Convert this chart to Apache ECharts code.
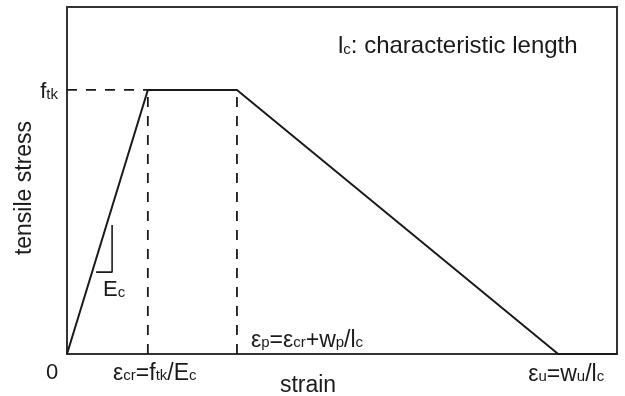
<!DOCTYPE html>
<html>
<head>
<meta charset="utf-8">
<script src="https://cdn.jsdelivr.net/npm/echarts@6/dist/echarts.min.js"></script>
<style>
  html, body { margin: 0; padding: 0; background: #fff; }
  #chart { width: 625px; height: 396px; }
</style>
</head>
<body>
<div id="chart"></div>
<script>
// Tensile softening law (trilinear), strain on x, tensile stress on y (relative units)
const strainMax = 100;
const stressMax = 100;
const epsCr = 14.7;     // cracking strain  = ftk / Ec
const epsP = 30.9;      // end of plateau   = epsCr + wp / lc
const epsU = 89.3;      // ultimate strain  = wu / lc
const ftk = 76.1;       // tensile strength

const curveX = [0, epsCr, epsP, epsU, strainMax];
const curveY = [0, ftk, ftk, 0, 0];

// small slope marker next to the rising branch
const slopeX = [5.3, 8.2, 8.2];
const slopeY = [23.6, 23.6, 37.2];

const FONT = '"Liberation Sans", Arial, Helvetica, sans-serif';
const INK = '#1a1a1a';

const chart = echarts.init(document.getElementById('chart'));

const pairs = (xs, ys) => xs.map((x, i) => [x, ys[i]]);
const dashed = { color: INK, width: 1.8, type: [10, 9] };

chart.setOption({
  animation: false,
  grid: { left: 67, right: 8, top: 7, bottom: 42, show: true, borderColor: '#333', borderWidth: 2 },
  xAxis: { type: 'value', min: 0, max: strainMax, show: false },
  yAxis: { type: 'value', min: 0, max: stressMax, show: false },
  series: [
    { type: 'line', data: pairs([0, epsCr], [ftk, ftk]), symbol: 'none', lineStyle: dashed },
    { type: 'line', data: pairs([epsCr, epsCr], [0, ftk]), symbol: 'none', lineStyle: dashed },
    { type: 'line', data: pairs([epsP, epsP], [0, ftk]), symbol: 'none', lineStyle: dashed },
    {
      type: 'line', data: pairs(curveX, curveY), symbol: 'none',
      lineStyle: { color: INK, width: 2 }
    },
    {
      type: 'line', data: pairs(slopeX, slopeY), symbol: 'none',
      lineStyle: { color: INK, width: 1.6 }
    }
  ]
});

const px = (x, y) => chart.convertToPixel({ gridIndex: 0 }, [x, y]);

function rich(main, sub) {
  return {
    m: { fontFamily: FONT, fontSize: main, color: INK, verticalAlign: 'bottom', lineHeight: main * 1.2 },
    s: { fontFamily: FONT, fontSize: sub, color: INK, verticalAlign: 'bottom', lineHeight: main * 1.2, padding: [0, 0, 1, 0] }
  };
}

function label(text, x, y, main, sub, align) {
  return {
    type: 'text', x: x, y: y,
    style: {
      text: text, rich: rich(main, sub),
      align: align || 'center', verticalAlign: 'middle',
      fontFamily: FONT, fontSize: main, fill: INK
    }
  };
}

const pCr = px(epsCr, 0);
const pP = px(epsP, 0);
const pU = px(epsU, 0);
const pF = px(0, ftk);
const pS = px(slopeX[1], slopeY[1]);

chart.setOption({
  graphic: [
    label('{m|f}{s|tk}', pF[0] - 9, pF[1], 22, 15, 'right'),
    label('{m|0}', 52, 371, 22, 15, 'center'),
    label('{m|ε}{s|cr}{m|=f}{s|tk}{m|/E}{s|c}', pCr[0] + 7, 371, 23, 15, 'center'),
    label('{m|ε}{s|p}{m|=ε}{s|cr}{m|+w}{s|p}{m|/l}{s|c}', pP[0] + 14, 338, 23, 15, 'left'),
    label('{m|ε}{s|u}{m|=w}{s|u}{m|/l}{s|c}', pU[0] + 8, 372, 23, 15, 'center'),
    label('{m|l}{s|c}{m|: characteristic length}', 338, 44, 24, 15, 'left'),
    label('{m|E}{s|c}', pS[0] + 2, pS[1] + 16, 22, 15, 'center'),
    {
      type: 'text', x: 308, y: 386,
      style: { text: 'strain', font: '23px ' + FONT, fill: INK, align: 'center', verticalAlign: 'middle' }
    },
    {
      type: 'text', x: 25, y: 188, rotation: Math.PI / 2,
      style: { text: 'tensile stress', font: '23px ' + FONT, fill: INK, align: 'center', verticalAlign: 'middle' }
    }
  ]
});
</script>
</body>
</html>
